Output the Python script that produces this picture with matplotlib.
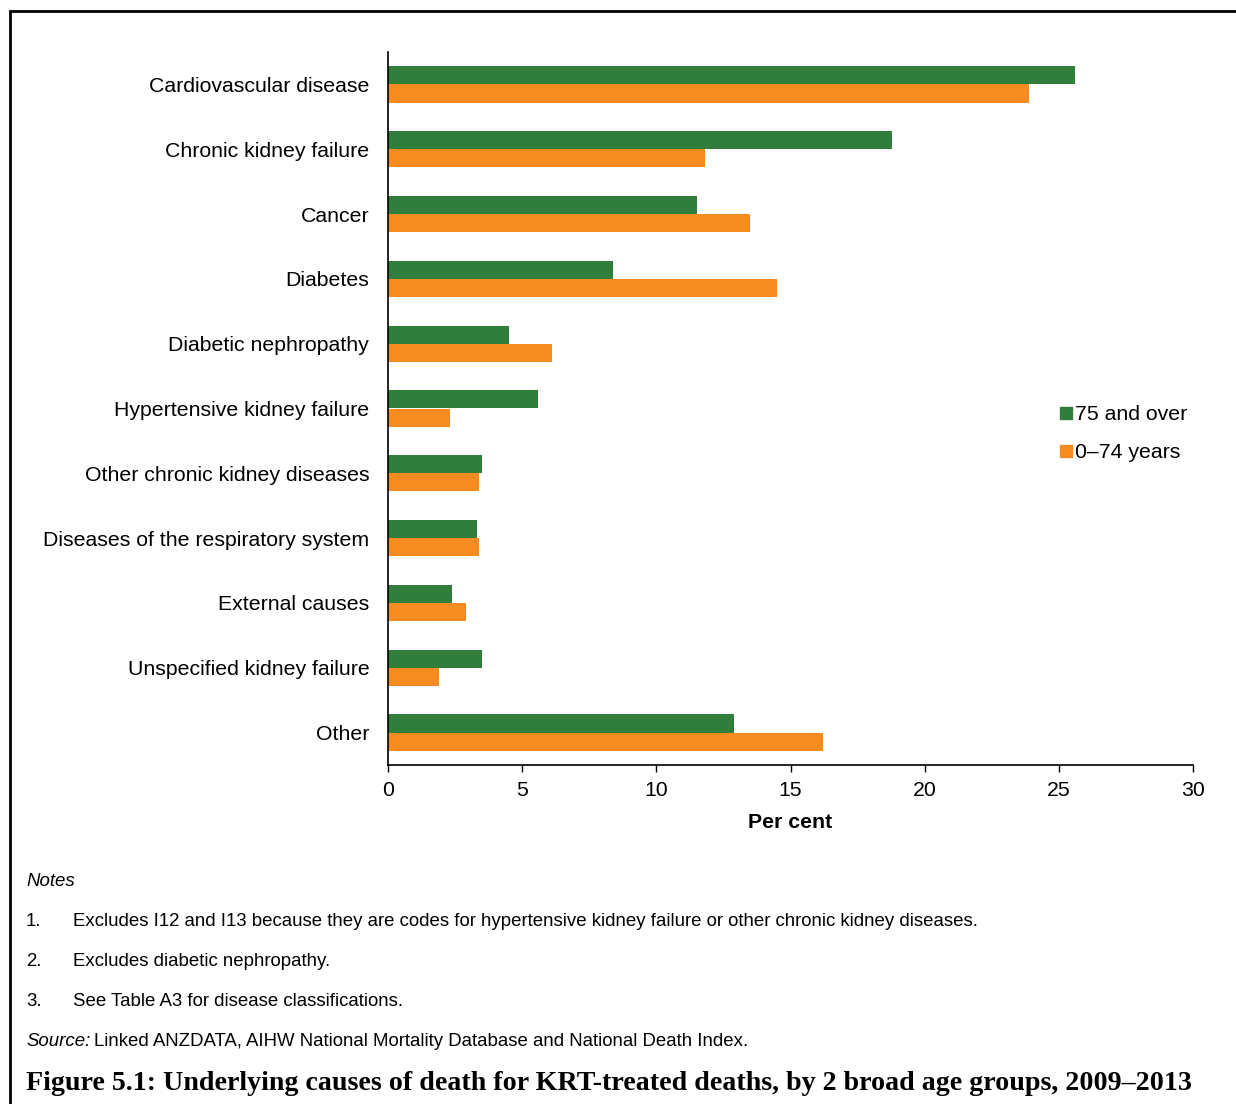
import matplotlib.pyplot as plt
import numpy as np
from matplotlib.lines import Line2D
from matplotlib.patches import Rectangle

plt.rcParams["font.family"] = ["Liberation Sans", "DejaVu Sans"]

CATEGORIES = [
    "Cardiovascular disease",
    "Chronic kidney failure",
    "Cancer",
    "Diabetes",
    "Diabetic nephropathy",
    "Hypertensive kidney failure",
    "Other chronic kidney diseases",
    "Diseases of the respiratory system",
    "External causes",
    "Unspecified kidney failure",
    "Other",
]
OLDER = [25.6, 18.8, 11.5, 8.4, 4.5, 5.6, 3.5, 3.3, 2.4, 3.5, 12.9]
YOUNGER = [23.9, 11.8, 13.5, 14.5, 6.1, 2.3, 3.4, 3.4, 2.9, 1.9, 16.2]
SERIES = ["75 and over", "0\u201374 years"]
X_TICKS = [0, 5, 10, 15, 20, 25, 30]

NOTES = [
    "Excludes I12 and I13 because they are codes for hypertensive kidney failure or other chronic kidney diseases.",
    "Excludes diabetic nephropathy.",
    "See Table A3 for disease classifications.",
]

GREEN = "#317d3c"
ORANGE = "#f58b21"
FS = 15.3
NOTE_FS = 13.4

fig = plt.figure(figsize=(12.36, 11.04), dpi=100)

# outer frame (top and left visible, rest cropped)
fig.patches.append(Rectangle((10 / 1236, -0.01), 1.1, 1 - 11 / 1104 + 0.01,
                             transform=fig.transFigure, fill=False,
                             edgecolor="black", linewidth=2))

ax = fig.add_axes([388 / 1236, 1 - 765 / 1104, 805 / 1236, 713 / 1104])

y = np.arange(len(CATEGORIES))
h = 0.28
ax.barh(y - h / 2, OLDER, height=h, color=GREEN, label=SERIES[0])
ax.barh(y + h / 2, YOUNGER, height=h, color=ORANGE, label=SERIES[1])

ax.set_ylim(len(CATEGORIES) - 0.5, -0.5)
ax.set_xlim(0, 30)
ax.set_yticks(y)
ax.set_yticklabels(CATEGORIES, fontsize=FS)
ax.tick_params(axis="y", length=0, pad=13.5)
ax.set_xticks(X_TICKS)
ax.tick_params(axis="x", labelsize=FS, length=5, width=1, direction="out", pad=6.5)
ax.set_xlabel("Per cent", fontsize=FS, fontweight="bold", labelpad=9.5)
for s in ["top", "right"]:
    ax.spines[s].set_visible(False)
for s in ["left", "bottom"]:
    ax.spines[s].set_linewidth(1.2)

handles = [
    Line2D([], [], marker="s", linestyle="none", color=GREEN, markersize=8),
    Line2D([], [], marker="s", linestyle="none", color=ORANGE, markersize=8),
]
fig.legend(handles, SERIES, loc="upper left", bbox_to_anchor=(1051 / 1236, 1 - 397 / 1104),
           frameon=False, fontsize=FS, handlelength=0.6, handletextpad=0.15,
           labelspacing=0.87, borderaxespad=0)

fig.text(26 / 1236, 1 - 882 / 1104, "Notes", fontsize=NOTE_FS, style="italic", va="center")
for i, note in enumerate(NOTES):
    yy = 1 - (922 + 40 * i) / 1104
    fig.text(26 / 1236, yy, f"{i + 1}.", fontsize=NOTE_FS, va="center")
    fig.text(73 / 1236, yy, note, fontsize=NOTE_FS, va="center")
fig.text(26 / 1236, 1 - 1042 / 1104, "Source:", fontsize=NOTE_FS, style="italic", va="center")
fig.text(94 / 1236, 1 - 1042 / 1104,
         "Linked ANZDATA, AIHW National Mortality Database and National Death Index.",
         fontsize=NOTE_FS, va="center")

fig.text(26 / 1236, 1 - 1084 / 1104,
         "Figure 5.1: Underlying causes of death for KRT-treated deaths, by 2 broad age groups, 2009\u20132013",
         fontsize=20.2, fontweight="bold", family=["Liberation Serif"], va="center")

fig.savefig("out.png", dpi=100)
